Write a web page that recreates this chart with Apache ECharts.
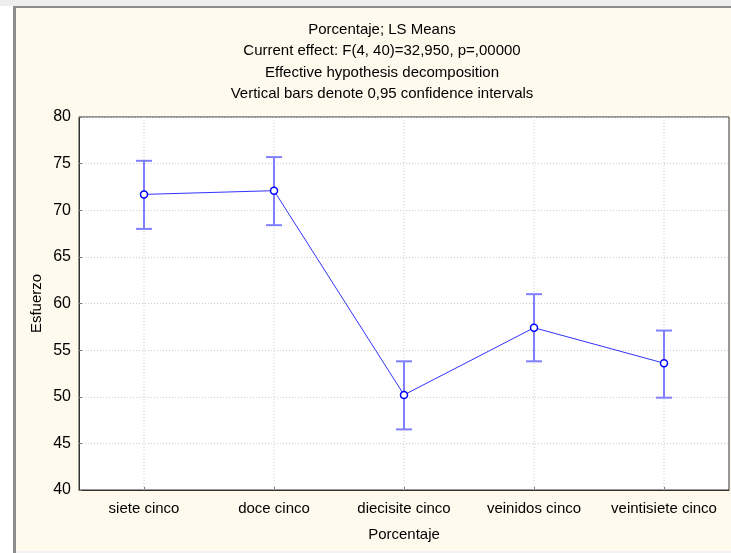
<!DOCTYPE html>
<html>
<head>
<meta charset="utf-8">
<script src="https://cdn.jsdelivr.net/npm/echarts@6/dist/echarts.min.js"></script>
<style>
html,body{margin:0;padding:0;background:#ffffff;}
#c{width:731px;height:553px;}
</style>
</head>
<body>
<div id="c"></div>
<script>
const titleLines = ['Porcentaje; LS Means','Current effect: F(4, 40)=32,950, p=,00000','Effective hypothesis decomposition','Vertical bars denote 0,95 confidence intervals'];
const categories = ['siete cinco','doce cinco','diecisite cinco','veinidos cinco','veintisiete cinco'];
const means = [71.7, 72.1, 50.2, 57.4, 53.6];
const upper = [75.3, 75.7, 53.8, 61.0, 57.1];
const lower = [68.0, 68.4, 46.5, 53.8, 49.9];
const yTicks = [40, 45, 50, 55, 60, 65, 70, 75, 80];
const xName = 'Porcentaje';
const yName = 'Esfuerzo';

const font = 'Arial, "Liberation Sans", sans-serif';
const chart = echarts.init(document.getElementById('c'), null, {renderer:'canvas'});
const errData = categories.map((c,i)=>[i, lower[i], upper[i]]);
const yMin = yTicks[0], yMax = yTicks[yTicks.length-1];

chart.setOption({
  backgroundColor: '#ffffff',
  animation: false,
  graphic: [
    {type:'rect', z:-10, shape:{x:0,y:0,width:731,height:6}, style:{fill:'#eeeeee'}},
    {type:'rect', z:-9, shape:{x:13,y:6,width:718,height:545}, style:{fill:'#fff9ee'}},
    {type:'rect', z:-8, shape:{x:13,y:6,width:718,height:2}, style:{fill:'#8c8c8c'}},
    {type:'rect', z:-8, shape:{x:13,y:6,width:3,height:547}, style:{fill:'#8c8c8c'}},
    {type:'rect', z:-8, shape:{x:16,y:551,width:715,height:2}, style:{fill:'#f2f2f2'}},
    {type:'text', position:[382,19], style:{
      text: titleLines.join('\n'), font:'15px '+font, fill:'#000', lineHeight:21.5, align:'center'
    }}
  ],
  grid: {left:79, right:2, top:117, bottom:63, show:true, backgroundColor:'#ffffff', borderColor:'#333333', borderWidth:1},
  xAxis: {
    type:'category', data:categories, boundaryGap:true,
    name:xName, nameLocation:'middle', nameGap:37, nameMoveOverlap:false,
    nameTextStyle:{fontFamily:font, fontSize:15, color:'#000'},
    axisLine:{show:true, lineStyle:{color:'#333', width:1}},
    axisTick:{show:true, inside:true, length:3, alignWithLabel:true, lineStyle:{color:'#777'}},
    axisLabel:{fontFamily:font, fontSize:15, color:'#000', margin:11, interval:0},
    splitLine:{show:false}
  },
  yAxis: {
    type:'value', min:yMin, max:yMax, interval:5,
    name:yName, nameLocation:'middle', nameGap:35, nameRotate:90, nameMoveOverlap:false,
    nameTextStyle:{fontFamily:font, fontSize:15, color:'#000'},
    axisLine:{show:true, lineStyle:{color:'#333', width:1}},
    axisTick:{show:true, inside:true, length:3, lineStyle:{color:'#777'}},
    axisLabel:{fontFamily:font, fontSize:16, color:'#000', margin:8},
    splitLine:{show:true, lineStyle:{color:'#cccccc', type:[1,2], width:1}}
  },
  series: [
    {
      type:'custom', z:1, silent:true,
      data: categories.map((c,i)=>[i]),
      renderItem: function(params, api){
        const x = api.value(0);
        const a = api.coord([x, yMin]);
        const b = api.coord([x, yMax]);
        return {type:'line', shape:{x1:a[0],y1:a[1],x2:b[0],y2:b[1]},
          style:{stroke:'#cccccc', lineWidth:1, lineDash:[1,2]}};
      }
    },
    {
      type:'custom', z:2,
      data: errData,
      renderItem: function(params, api){
        const x = api.value(0);
        const lo = api.coord([x, api.value(1)]);
        const hi = api.coord([x, api.value(2)]);
        const hw = 8;
        const st = {stroke:'#7f7fff', lineWidth:2, fill:null};
        return {type:'group', children:[
          {type:'line', shape:{x1:hi[0],y1:hi[1],x2:lo[0],y2:lo[1]}, style:st},
          {type:'line', shape:{x1:hi[0]-hw,y1:hi[1],x2:hi[0]+hw,y2:hi[1]}, style:st},
          {type:'line', shape:{x1:lo[0]-hw,y1:lo[1],x2:lo[0]+hw,y2:lo[1]}, style:st}
        ]};
      }
    },
    {
      type:'line', z:3, data:means,
      lineStyle:{color:'#3333ff', width:1},
      itemStyle:{color:'#ffffff', borderColor:'#0000ff', borderWidth:1.5},
      symbol:'circle', symbolSize:7, showSymbol:true
    }
  ]
});
</script>
</body>
</html>
